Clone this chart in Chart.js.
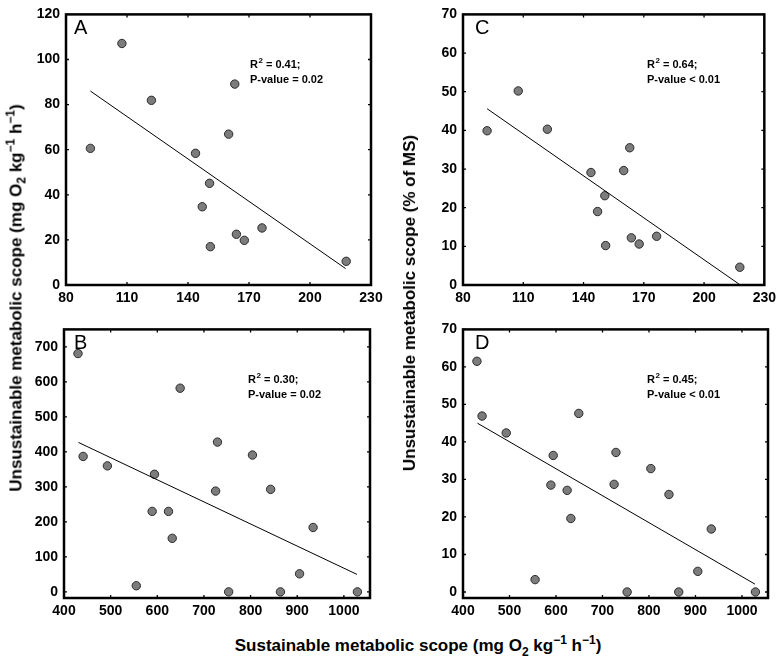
<!DOCTYPE html>
<html>
<head>
<meta charset="utf-8">
<script src="https://cdn.jsdelivr.net/npm/chart.js@4.4.1/dist/chart.umd.min.js"></script>
<style>
  body { margin: 0; background: #fff; width: 781px; height: 662px; position: relative; overflow: hidden;
         font-family: "Liberation Sans", Arial, sans-serif; }
  canvas { position: absolute; }
  .title { position: absolute; white-space: nowrap; font-weight: bold; font-size: 17px; color: #000;
           transform: translate(-50%, -50%); }
  .title.rot { transform: translate(-50%, -50%) rotate(-90deg); }
  .title sub, .title sup { font-size: 12px; }
</style>
</head>
<body>
<canvas id="chartA" width="390" height="315" style="left:0;top:0"></canvas>
<canvas id="chartC" width="391" height="315" style="left:390px;top:0"></canvas>
<canvas id="chartB" width="390" height="310" style="left:0;top:315px"></canvas>
<canvas id="chartD" width="391" height="310" style="left:390px;top:315px"></canvas>

<div class="title rot" style="left:16px;top:298px">Unsustainable metabolic scope (mg O<sub>2</sub> kg<sup>−1</sup> h<sup>−1</sup>)</div>
<div class="title rot" style="left:410px;top:303px">Unsustainable metabolic scope (% of MS)</div>
<div class="title" style="left:418px;top:646px">Sustainable metabolic scope (mg O<sub>2</sub> kg<sup>−1</sup> h<sup>−1</sup>)</div>

<script>
// sustainable metabolic scope, top row (A, C)
const msTop = [92, 107.5, 122, 143.7, 147, 150.6, 151, 160, 163, 163.8, 167.7, 176.4, 217.8];
const usA = [60.6, 107.1, 81.9, 58.4, 34.7, 45.1, 17.0, 66.9, 89.1, 22.5, 19.8, 25.3, 10.5];
const usC = [39.9, 50.2, 40.3, 29.1, 19.0, 23.1, 10.2, 29.6, 35.5, 12.2, 10.6, 12.6, 4.6];

// sustainable metabolic scope, bottom row (B, D)
const msBottom = [430, 441, 493, 555, 589, 594, 624, 632, 649, 725, 729, 753, 804, 843, 864, 905, 934, 1029];
const usB = [681, 387, 360, 17.5, 230, 336, 230, 153, 582, 288, 428, 0, 391, 293, 0, 51.6, 184, 0];
const usD = [61.5, 46.9, 42.4, 3.3, 28.5, 36.4, 27.1, 19.6, 47.6, 28.7, 37.2, 0, 32.9, 26.0, 0, 5.5, 16.8, 0];

// regression line end points [start, end]
const fitXTop = [92, 217.5];
const fitA = [86, 7.3];
const fitC = [45.6, 0.2];
const fitXBottom = [431, 1028];
const fitB = [427, 50];
const fitD = [45, 2.1];

// tick labels
const xTicksTop = [80, 110, 140, 170, 200, 230];
const xTicksBottom = [400, 500, 600, 700, 800, 900, 1000];
const yTicksA = [0, 20, 40, 60, 80, 100, 120];
const yTicksB = [0, 100, 200, 300, 400, 500, 600, 700];
const yTicksPct = [0, 10, 20, 30, 40, 50, 60, 70];

Chart.defaults.font.family = '"Liberation Sans", Arial, sans-serif';
Chart.defaults.color = '#000';

const framePlugin = {
  id: 'frame',
  afterDraw(chart, args, opts) {
    const { ctx, chartArea: a, scales: { x, y } } = chart;
    ctx.save();
    ctx.strokeStyle = '#000';
    // small inward ticks on all four sides
    ctx.lineWidth = 1.3;
    ctx.beginPath();
    x.ticks.forEach(t => {
      const px = x.getPixelForValue(t.value);
      ctx.moveTo(px, a.bottom); ctx.lineTo(px, a.bottom - 3);
      ctx.moveTo(px, a.top); ctx.lineTo(px, a.top + 3);
    });
    y.ticks.forEach(t => {
      const py = y.getPixelForValue(t.value);
      ctx.moveTo(a.left, py); ctx.lineTo(a.left + 3, py);
      ctx.moveTo(a.right, py); ctx.lineTo(a.right - 3, py);
    });
    ctx.stroke();
    ctx.lineWidth = 2.5;
    ctx.strokeRect(a.left, a.top, a.right - a.left, a.bottom - a.top);

    // panel letter
    ctx.fillStyle = '#000';
    ctx.textBaseline = 'alphabetic';
    ctx.font = '20px "Liberation Sans", Arial, sans-serif';
    ctx.fillText(opts.letter, a.left + opts.letterDx, a.top + 20);

    // R squared and P-value
    const bx = a.left + 184;
    const by = a.top + 54;
    ctx.font = 'bold 11px "Liberation Sans", Arial, sans-serif';
    ctx.fillText('R', bx, by);
    let w = ctx.measureText('R').width;
    ctx.font = 'bold 8px "Liberation Sans", Arial, sans-serif';
    ctx.fillText('2', bx + w + 0.5, by - 5);
    const w2 = ctx.measureText('2').width;
    ctx.font = 'bold 11px "Liberation Sans", Arial, sans-serif';
    ctx.fillText(' = ' + opts.r2 + ';', bx + w + w2 + 0.5, by);
    ctx.fillText(opts.p, bx, by + 15);
    ctx.restore();
  }
};

function makePanel(id, cfg) {
  const pts = cfg.xs.map((v, i) => ({ x: v, y: cfg.ys[i] }));
  const fit = cfg.fitX.map((v, i) => ({ x: v, y: cfg.fitY[i] }));
  new Chart(document.getElementById(id), {
    type: 'scatter',
    data: {
      datasets: [
        {
          data: fit,
          showLine: true,
          borderColor: '#000',
          borderWidth: 1,
          pointRadius: 0,
          fill: false
        },
        {
          data: pts,
          pointRadius: 4.2,
          pointBackgroundColor: '#7c7c7c',
          pointBorderColor: '#2a2a2a',
          pointBorderWidth: 1
        }
      ]
    },
    options: {
      responsive: false,
      animation: false,
      events: [],
      clip: false,
      layout: { autoPadding: false, padding: { top: cfg.padTop, right: cfg.padRight, left: 0, bottom: 0 } },
      scales: {
        x: {
          type: 'linear',
          min: cfg.xMin, max: cfg.xMax,
          afterBuildTicks: s => { s.ticks = cfg.xTicks.map(v => ({ value: v })); },
          afterFit: s => { s.height = cfg.xh; },
          grid: { display: false, drawTicks: false },
          border: { display: false },
          ticks: { padding: 5, maxRotation: 0, font: { size: 14, weight: 'bold' }, callback: v => String(v) }
        },
        y: {
          type: 'linear',
          min: cfg.yMin, max: cfg.yMax,
          afterBuildTicks: s => { s.ticks = cfg.yTicks.map(v => ({ value: v })); },
          afterFit: s => { s.width = cfg.yw; },
          grid: { display: false, drawTicks: false },
          border: { display: false },
          ticks: { padding: 6, font: { size: 14, weight: 'bold' }, callback: v => String(v) }
        }
      },
      plugins: {
        legend: { display: false },
        tooltip: { enabled: false },
        frame: { letter: cfg.letter, letterDx: cfg.letterDx, r2: cfg.r2, p: cfg.p }
      }
    },
    plugins: [framePlugin]
  });
}

makePanel('chartA', {
  xs: msTop, ys: usA, fitX: fitXTop, fitY: fitA,
  xMin: 80, xMax: 230, yMin: 0, yMax: 120, xTicks: xTicksTop, yTicks: yTicksA,
  yw: 66, xh: 30, padTop: 6, padRight: 19,
  letter: 'A', letterDx: 8, r2: '0.41', p: 'P-value = 0.02'
});
makePanel('chartC', {
  xs: msTop, ys: usC, fitX: fitXTop, fitY: fitC,
  xMin: 80, xMax: 230, yMin: 0, yMax: 70, xTicks: xTicksTop, yTicks: yTicksPct,
  yw: 73, xh: 30, padTop: 6, padRight: 13,
  letter: 'C', letterDx: 12, r2: '0.64', p: 'P-value < 0.01'
});
makePanel('chartB', {
  xs: msBottom, ys: usB, fitX: fitXBottom, fitY: fitB,
  xMin: 400, xMax: 1056, yMin: -17.5, yMax: 750, xTicks: xTicksBottom, yTicks: yTicksB,
  yw: 64, xh: 27, padTop: 6, padRight: 20,
  letter: 'B', letterDx: 10, r2: '0.30', p: 'P-value = 0.02'
});
makePanel('chartD', {
  xs: msBottom, ys: usD, fitX: fitXBottom, fitY: fitD,
  xMin: 400, xMax: 1056, yMin: -1.6, yMax: 70, xTicks: xTicksBottom, yTicks: yTicksPct,
  yw: 73, xh: 27, padTop: 6, padRight: 13,
  letter: 'D', letterDx: 12, r2: '0.45', p: 'P-value < 0.01'
});
</script>
</body>
</html>
